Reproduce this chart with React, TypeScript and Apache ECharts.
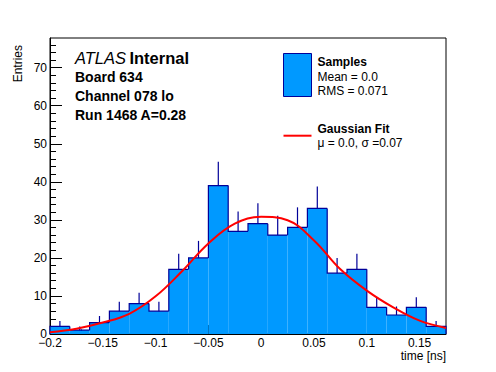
import React, { useEffect, useRef } from "react";
import * as echarts from "echarts";

// Histogram: 20 bins from -0.2 to 0.175 (width 0.01875)
const binLow = -0.2;
const binWidth = 0.01875;
const counts = [2, 1, 3, 6, 8, 6, 17, 20, 39, 27, 29, 26, 28, 33, 16, 17, 7, 5, 7, 2];

// Gaussian fit curve
const fitX = [-0.2, -0.175, -0.15, -0.125, -0.1, -0.075, -0.05, -0.025, 0, 0.025, 0.05, 0.075, 0.1, 0.125, 0.15, 0.175];
const fitY = [0.45, 1.4, 3.0, 5.3, 9.9, 16.5, 23.8, 29.0, 30.8, 29.9, 24.6, 17.0, 11.4, 7.0, 3.5, 1.6];

const xMajorTicks = [-0.2, -0.15, -0.1, -0.05, 0, 0.05, 0.1, 0.15];
const yMajorTicks = [0, 10, 20, 30, 40, 50, 60, 70];

const X_MIN = -0.2;
const X_MAX = 0.175;
const Y_MIN = 0;
const Y_MAX = 77.8;

const FILL = "#0099ff";
const EDGE = "#000099";
const FONT = "'Liberation Sans', Arial, Helvetica, sans-serif";

export default function App() {
  const ref = useRef<HTMLDivElement>(null);

  useEffect(() => {
    if (!ref.current) return;
    const chart = echarts.init(ref.current, undefined, { renderer: "svg" });

    const xMinor: number[] = [];
    for (let i = 0; i <= 37; i++) xMinor.push(+(X_MIN + i * 0.01).toFixed(4));
    const yMinor: number[] = [];
    for (let v = 0; v <= 76; v += 2) yMinor.push(v);

    const histData = counts.map((c, i) => [
      binLow + i * binWidth,
      binLow + (i + 1) * binWidth,
      c,
      i === 0 ? 0 : counts[i - 1],
      i === counts.length - 1 ? 1 : 0,
    ]);
    const errData = counts.map((c, i) => [binLow + (i + 0.5) * binWidth, c, Math.sqrt(c)]);
    const fitData = fitX.map((x, i) => [x, fitY[i]]);

    const fmt = (v: number) => {
      const s = String(+v.toFixed(3));
      return s.replace("-", "\u2212");
    };

    const axisCommonX = {
      type: "value",
      min: X_MIN,
      max: X_MAX,
      position: "bottom",
      splitLine: { show: false },
    };
    const axisCommonY = {
      type: "value",
      min: Y_MIN,
      max: Y_MAX,
      position: "left",
      splitLine: { show: false },
    };

    chart.setOption({
      animation: false,
      grid: {
        left: 50,
        right: 50,
        top: 38,
        bottom: 38,
        show: true,
        borderColor: "#000",
        borderWidth: 1,
        containLabel: false,
      },
      xAxis: [
        {
          ...axisCommonX,
          axisLine: { show: true, onZero: false, lineStyle: { color: "#000", width: 1 } },
          axisTick: { show: true, inside: true, length: 9, customValues: xMajorTicks, lineStyle: { color: "#000" } },
          axisLabel: {
            show: true,
            customValues: xMajorTicks,
            margin: 3,
            color: "#000",
            fontSize: 12,
            fontFamily: FONT,
            formatter: fmt,
          },
        },
        {
          ...axisCommonX,
          axisLine: { show: false, onZero: false },
          axisTick: { show: true, inside: true, length: 4.5, customValues: xMinor, lineStyle: { color: "#000" } },
          axisLabel: { show: false },
        },
      ],
      yAxis: [
        {
          ...axisCommonY,
          axisLine: { show: true, onZero: false, lineStyle: { color: "#000", width: 1 } },
          axisTick: { show: true, inside: true, length: 12, customValues: yMajorTicks, lineStyle: { color: "#000" } },
          axisLabel: {
            show: true,
            customValues: yMajorTicks,
            margin: 3,
            color: "#000",
            fontSize: 12,
            fontFamily: FONT,
          },
        },
        {
          ...axisCommonY,
          axisLine: { show: false, onZero: false },
          axisTick: { show: true, inside: true, length: 6, customValues: yMinor, lineStyle: { color: "#000" } },
          axisLabel: { show: false },
        },
      ],
      series: [
        {
          type: "custom",
          xAxisIndex: 0,
          yAxisIndex: 0,
          z: 2,
          encode: { x: [0, 1], y: 2 },
          data: histData,
          renderItem: (params: any, api: any) => {
            const lo = api.value(0);
            const hi = api.value(1);
            const v = api.value(2);
            const prev = api.value(3);
            const last = api.value(4);
            const p0 = api.coord([lo, 0]);
            const p1 = api.coord([hi, v]);
            const pts = [api.coord([lo, prev]), api.coord([lo, v]), api.coord([hi, v])];
            if (last) pts.push(api.coord([hi, 0]));
            return {
              type: "group",
              children: [
                {
                  type: "rect",
                  shape: { x: p0[0], y: p1[1], width: p1[0] - p0[0], height: p0[1] - p1[1] },
                  style: { fill: FILL },
                },
                {
                  type: "polyline",
                  shape: { points: pts },
                  style: { stroke: EDGE, lineWidth: 1.2, fill: "none" },
                },
              ],
            };
          },
        },
        {
          type: "custom",
          xAxisIndex: 0,
          yAxisIndex: 0,
          z: 3,
          encode: { x: 0, y: 1 },
          data: errData,
          renderItem: (params: any, api: any) => {
            const c = api.value(0);
            const v = api.value(1);
            const e = api.value(2);
            const a = api.coord([c, v]);
            const b = api.coord([c, v + e]);
            return {
              type: "line",
              shape: { x1: a[0], y1: a[1], x2: b[0], y2: b[1] },
              style: { stroke: EDGE, lineWidth: 1.2 },
            };
          },
        },
        {
          type: "line",
          xAxisIndex: 0,
          yAxisIndex: 0,
          z: 5,
          data: fitData,
          smooth: 0.4,
          showSymbol: false,
          symbol: "none",
          lineStyle: { color: "#ff0000", width: 2 },
        },
      ],
      graphic: [
        {
          type: "text",
          x: 75,
          y: 57.5,
          style: {
            text: "{a|ATLAS} {b|Internal}",
            verticalAlign: "middle",
            rich: {
              a: { fontFamily: FONT, fontSize: 16.5, fontStyle: "italic", fill: "#000" },
              b: { fontFamily: FONT, fontSize: 16.5, fontWeight: "bold", fill: "#000" },
            },
          },
        },
        { type: "text", x: 75, y: 76.7, style: { text: "Board 634", font: `bold 14px ${FONT}`, fill: "#000", verticalAlign: "middle" } },
        { type: "text", x: 75, y: 96.3, style: { text: "Channel 078 lo", font: `bold 14px ${FONT}`, fill: "#000", verticalAlign: "middle" } },
        { type: "text", x: 75, y: 115, style: { text: "Run 1468 A=0.28", font: `bold 14px ${FONT}`, fill: "#000", verticalAlign: "middle" } },
        // legend
        { type: "rect", shape: { x: 283.5, y: 53.5, width: 28, height: 43 }, style: { fill: FILL, stroke: EDGE, lineWidth: 1 } },
        { type: "text", x: 317.5, y: 61.5, style: { text: "Samples", font: `bold 12px ${FONT}`, fill: "#000", verticalAlign: "middle" } },
        { type: "text", x: 317.5, y: 77, style: { text: "Mean = 0.0", font: `12px ${FONT}`, fill: "#000", verticalAlign: "middle" } },
        { type: "text", x: 317.5, y: 90.5, style: { text: "RMS = 0.071", font: `12px ${FONT}`, fill: "#000", verticalAlign: "middle" } },
        { type: "line", shape: { x1: 283.5, y1: 135.7, x2: 311.5, y2: 135.7 }, style: { stroke: "#ff0000", lineWidth: 2 } },
        { type: "text", x: 317.5, y: 129, style: { text: "Gaussian Fit", font: `bold 12px ${FONT}`, fill: "#000", verticalAlign: "middle" } },
        { type: "text", x: 317.5, y: 142.5, style: { text: "\u03bc = 0.0, \u03c3 =0.07", font: `12px ${FONT}`, fill: "#000", verticalAlign: "middle" } },
        // axis titles
        { type: "text", x: 446, y: 356, style: { text: "time [ns]", font: `12px ${FONT}`, fill: "#000", align: "right", verticalAlign: "middle" } },
        {
          type: "text",
          x: 18,
          y: 45,
          rotation: Math.PI / 2,
          style: { text: "Entries", font: `12px ${FONT}`, fill: "#000", align: "right", verticalAlign: "middle" },
        },
      ],
    });

    return () => chart.dispose();
  }, []);

  return (
    <div
      ref={ref}
      style={{ position: "absolute", left: 0, top: 0, width: 496, height: 372, background: "#fff" }}
    />
  );
}
